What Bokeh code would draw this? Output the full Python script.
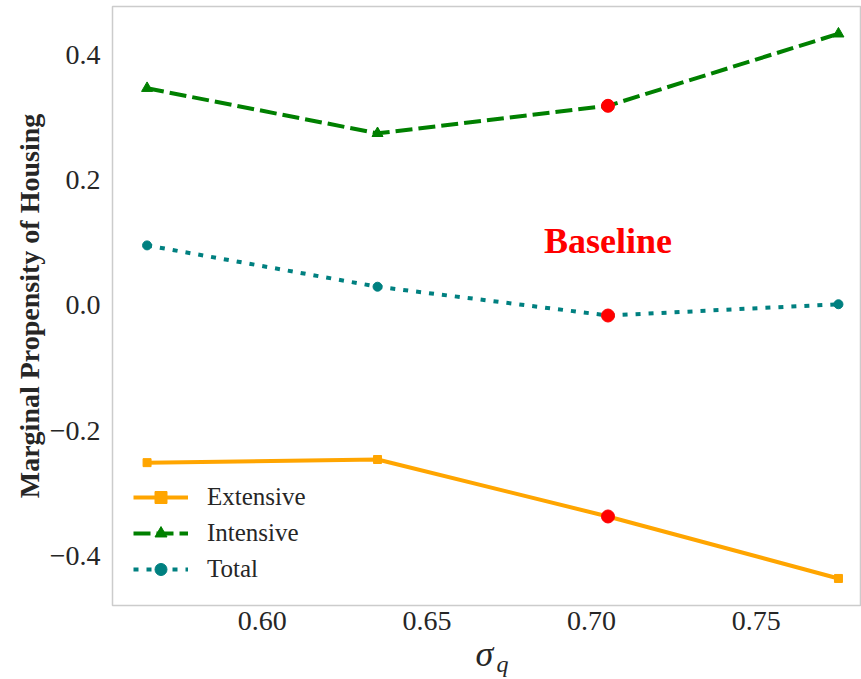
from bokeh.plotting import figure
from bokeh.models import (FixedTicker, CustomJSTickFormatter, Label, Legend,
                          LegendItem, Range1d, Title)
from bokeh.embed import file_html
from bokeh.resources import INLINE

# ---- data ----
sigma = [0.565, 0.635, 0.705, 0.775]
extensive = [-0.251, -0.246, -0.337, -0.436]
intensive = [0.347, 0.275, 0.319, 0.434]
total = [0.096, 0.030, -0.016, 0.002]
baseline_index = 2
series_names = ["Extensive", "Intensive", "Total"]
x_ticks = [0.60, 0.65, 0.70, 0.75]
y_ticks = [-0.4, -0.2, 0.0, 0.2, 0.4]

FONT = "Liberation Serif"
TXT = "#262626"

p = figure(width=861, height=679, output_backend="svg", toolbar_location=None,
           x_range=Range1d(0.5545, 0.7820), y_range=Range1d(-0.4792, 0.4776),
           min_border_left=112, min_border_right=0, min_border_top=6,
           min_border_bottom=74, background_fill_color="white")
p.grid.visible = False
p.outline_line_color = "#cccccc"
p.outline_line_width = 1.5

# axes
for ax in (p.xaxis[0], p.yaxis[0]):
    ax.axis_line_color = None
    ax.major_tick_line_color = None
    ax.minor_tick_line_color = None
    ax.major_label_text_font = FONT
    ax.major_label_text_font_size = "28px"
    ax.major_label_text_color = TXT
p.xaxis.ticker = FixedTicker(ticks=x_ticks)
p.yaxis.ticker = FixedTicker(ticks=y_ticks)
p.xaxis.formatter = CustomJSTickFormatter(code="return tick.toFixed(2);")
p.yaxis.formatter = CustomJSTickFormatter(
    code="return (tick < -1e-9 ? '\u2212' : '') + Math.abs(tick).toFixed(1);")
p.xaxis.major_label_standoff = 0
p.yaxis.major_label_standoff = 6
p.yaxis.axis_label = "Marginal Propensity of Housing"
p.yaxis.axis_label_text_font = FONT
p.yaxis.axis_label_text_font_style = "bold"
p.yaxis.axis_label_text_font_size = "28px"
p.yaxis.axis_label_text_color = TXT
p.yaxis.axis_label_standoff = 2

# series
ext_l = p.line(sigma, extensive, line_color="orange", line_width=4)
ext_m = p.scatter(sigma, extensive, marker="square", size=8, color="orange")
int_l = p.line(sigma, intensive, line_color="green", line_width=4, line_dash="17 6")
int_m = p.scatter(sigma, intensive, marker="triangle", size=11, color="green")
tot_l = p.line(sigma, total, line_color="teal", line_width=4, line_dash="5 8")
tot_m = p.scatter(sigma, total, marker="circle", size=9, color="teal")

# baseline markers
bx = [sigma[baseline_index]] * 3
by = [extensive[baseline_index], intensive[baseline_index], total[baseline_index]]
p.scatter(bx, by, marker="circle", size=13, color="red")

p.add_layout(Label(x=sigma[baseline_index], y=0.103, text="Baseline",
                   text_font=FONT, text_font_style="bold", text_font_size="36px",
                   text_color="red", text_align="center",
                   text_baseline="alphabetic"))

legend = Legend(items=[
    LegendItem(label=series_names[0], renderers=[ext_l, ext_m]),
    LegendItem(label=series_names[1], renderers=[int_l, int_m]),
    LegendItem(label=series_names[2], renderers=[tot_l, tot_m]),
], location=(21, 21), padding=0, margin=0, spacing=6,
   glyph_width=55, glyph_height=30, label_height=30, label_standoff=19,
   border_line_color=None, background_fill_alpha=0,
   label_text_font=FONT, label_text_font_size="25px", label_text_color=TXT)
p.add_layout(legend)

# x-axis label sigma_q (sigma with subscript q)
p.add_layout(Title(text="σ", align="left", offset=363, standoff=-1,
                   text_font=FONT, text_font_style="italic", text_font_size="36px",
                   text_color=TXT), "below")
p.add_layout(Title(text="q", align="left", offset=384, standoff=-45,
                   vertical_align="top",
                   text_font=FONT, text_font_style="italic", text_font_size="24px",
                   text_color=TXT), "below")

open("out.html", "w").write(file_html(p, INLINE))
